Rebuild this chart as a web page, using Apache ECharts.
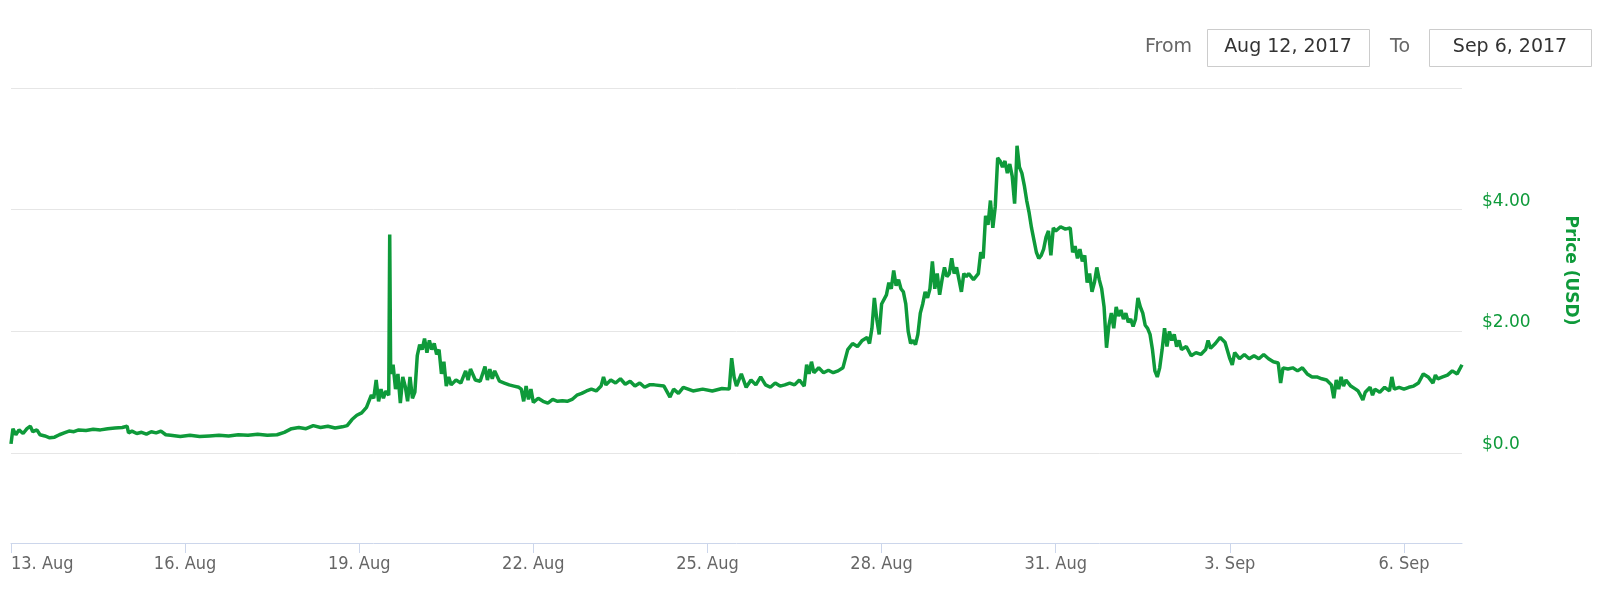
<!DOCTYPE html>
<html>
<head>
<meta charset="utf-8">
<script src="https://cdn.jsdelivr.net/npm/echarts@6/dist/echarts.min.js"></script>
<style>
html,body{margin:0;padding:0;background:#fff;}
#chart{width:1600px;height:598px;}
</style>
</head>
<body>
<div id="chart"></div>
<script>
// hours since 13 Aug 2017 00:00
const hours = [0,0.8,2,3.3,5,6.6,8,9,10.7,12,14,16,18,20,22,24,26,28,31,34,37,40,43,46,48,48.6,50,52,54,56,58,60,62,64,66,70,74,78,82,86,90,94,98,102,106,110,113,116,119,122,125,128,131,134,137,139,141,143,145,147,149,150,151,152,153,154,155,156.2,156.6,157,158,159,160,161,162,163,164,165,166,167,168,169,170,171,172,173,174,175,176,177,178,179,180,181,182,184,186,188,189,190,192,194,196,197,198,199,200,202,204,206,208,210,211,212,213,214,215,216,218,220,222,224,226,228,230,232,234,236,238,240,242,244,245,246,248,250,252,254,256,258,260,262,264,266,270,272.5,274,276,278,282,286,290,294,297,298,299,300,302,304,306,308,310,312,314,316,318,320,322,324,326,328,329,330,331,332,334,336,338,340,342,344,346,348,350,352,354,355,356,357,358,359,360,362,363,364,365,366,367,368,369,370,371,372,373,374,375,376,377,378,379,380,381,382,383,384,385,386,387,388,389,390,391,392,393,394,395,396,398,400,401,402,403,404,405,406,407,408,409,410,411,412,413,414,415,415.5,416,417,418,419,420,421,422,423,424,425,426,427,428,429,430,431,432,434,436,438,439,440,441,442,443,444,445,446,447,448,449,450,451,452,453,454,455,456,457,458,459,460,461,462,463,464,465,466,467,468,469,470,471,472,473,474,475,476,477,478,479,480,481,482,483,484,486,488,490,492,494,495,496,498,500,502,504,505,506,508,510,512,514,516,518,520,522,524,525,526,528,530,532,534,536,538,540,542,544,546,547,548,549,550,551,552,554,556,557,558,559,560,562,563,564,566,568,570,571,572,574,576,578,580,582,584,586,588,589,590,592,594,596,598,600];
const prices = [0.15,0.40,0.30,0.38,0.32,0.40,0.44,0.35,0.38,0.30,0.28,0.25,0.26,0.30,0.33,0.36,0.35,0.38,0.37,0.39,0.38,0.40,0.41,0.42,0.44,0.33,0.36,0.32,0.34,0.31,0.35,0.33,0.36,0.30,0.29,0.27,0.29,0.27,0.28,0.29,0.28,0.30,0.29,0.31,0.29,0.30,0.34,0.40,0.42,0.40,0.45,0.42,0.44,0.41,0.43,0.45,0.55,0.62,0.66,0.75,0.95,0.90,1.20,0.85,1.05,0.90,1.02,0.95,3.59,1.30,1.45,1.05,1.30,0.82,1.25,1.10,0.85,1.25,0.90,1.00,1.60,1.78,1.70,1.88,1.65,1.85,1.70,1.80,1.62,1.70,1.30,1.50,1.10,1.25,1.12,1.20,1.15,1.35,1.20,1.38,1.20,1.18,1.42,1.20,1.38,1.22,1.35,1.18,1.15,1.12,1.10,1.08,1.05,0.85,1.10,0.88,1.05,0.83,0.90,0.85,0.82,0.88,0.85,0.86,0.85,0.88,0.95,0.98,1.02,1.05,1.02,1.10,1.25,1.12,1.20,1.15,1.22,1.13,1.18,1.10,1.15,1.08,1.12,1.12,1.10,0.92,1.05,0.98,1.08,1.02,1.05,1.02,1.06,1.05,1.56,1.25,1.10,1.30,1.08,1.20,1.12,1.25,1.12,1.08,1.15,1.10,1.12,1.15,1.12,1.20,1.10,1.45,1.30,1.50,1.32,1.40,1.32,1.36,1.32,1.35,1.40,1.70,1.80,1.75,1.85,1.90,1.80,2.05,2.55,2.20,1.95,2.45,2.60,2.80,2.70,3.00,2.75,2.85,2.70,2.65,2.45,2.00,1.80,1.85,1.78,1.95,2.30,2.45,2.65,2.55,2.70,3.15,2.70,2.95,2.60,2.85,3.05,2.90,2.95,3.20,2.95,3.05,2.85,2.65,2.95,2.90,2.95,2.85,2.95,3.30,3.20,3.90,3.75,4.15,3.70,4.05,4.85,4.80,4.70,4.80,4.60,4.75,4.55,4.10,4.50,5.05,4.70,4.60,4.40,4.15,3.95,3.70,3.50,3.30,3.20,3.25,3.35,3.55,3.65,3.25,3.70,3.65,3.72,3.68,3.70,3.30,3.40,3.20,3.35,3.15,3.25,2.80,2.95,2.65,2.80,3.05,2.85,2.70,2.40,1.73,2.10,2.30,2.05,2.40,2.25,2.35,2.20,2.30,2.15,2.20,2.08,2.20,2.55,2.40,2.30,2.10,2.05,1.95,1.70,1.35,1.25,1.40,1.70,2.05,1.75,2.00,1.85,1.95,1.75,1.85,1.70,1.75,1.60,1.65,1.62,1.70,1.85,1.72,1.80,1.90,1.82,1.55,1.45,1.65,1.55,1.62,1.55,1.60,1.55,1.62,1.55,1.50,1.48,1.15,1.40,1.38,1.40,1.35,1.40,1.30,1.25,1.25,1.22,1.20,1.12,0.90,1.20,1.05,1.25,1.10,1.20,1.10,1.05,1.02,0.95,0.87,1.00,1.08,0.95,1.05,1.00,1.08,1.02,1.25,1.05,1.08,1.05,1.08,1.10,1.15,1.30,1.25,1.15,1.28,1.22,1.25,1.28,1.35,1.30,1.45];
const yTicks = [0, 2, 4, 6];
const monthNames = ['Jan','Feb','Mar','Apr','May','Jun','Jul','Aug','Sep','Oct','Nov','Dec'];
const startDate = Date.UTC(2017, 7, 13);
const fromText = 'Aug 12, 2017';
const toText = 'Sep 6, 2017';

const seriesData = hours.map((h, i) => [h, prices[i]]);
const green = '#0e9a3a';

const chart = echarts.init(document.getElementById('chart'), null, {renderer: 'canvas'});
chart.setOption({
  animation: false,
  backgroundColor: '#ffffff',
  grid: {left: 11, right: 138, top: 88, bottom: 145, containLabel: false},
  xAxis: {
    type: 'value', min: 0, max: 600, interval: 72,
    offset: 90,
    axisLine: {show: true, onZero: false, lineStyle: {color: '#ccd6eb', width: 1}},
    axisTick: {show: true, length: 10, lineStyle: {color: '#ccd6eb'}},
    splitLine: {show: false},
    axisLabel: {
      margin: 12, color: '#666666', fontSize: 18,
      fontFamily: '"Liberation Sans Narrow", "DejaVu Sans Condensed", sans-serif',
      alignMinLabel: 'left', showMaxLabel: false,
      formatter: function (v) {
        const d = new Date(startDate + v * 3600000);
        return d.getUTCDate() + '. ' + monthNames[d.getUTCMonth()];
      }
    }
  },
  yAxis: {
    type: 'value', position: 'right', min: 0, max: 6, interval: 2,
    axisLine: {show: false}, axisTick: {show: false},
    splitLine: {show: true, lineStyle: {color: '#e6e6e6', width: 1}},
    axisLabel: {
      margin: 20, color: green, fontSize: 17, fontFamily: '"DejaVu Sans", sans-serif',
      verticalAlign: 'bottom',
      formatter: function (v) { if (v === 6) return ''; return v === 0 ? '$0.0' : '$' + v.toFixed(2); }
    },
    name: 'Price (USD)', nameLocation: 'middle', nameRotate: -90, nameGap: 100,
    nameTextStyle: {color: green, fontSize: 17, fontWeight: 'bold', fontFamily: '"DejaVu Sans", sans-serif'}
  },
  series: [{
    type: 'line', data: seriesData, showSymbol: false, symbol: 'none',
    lineStyle: {color: green, width: 3.5}, itemStyle: {color: green}
  }],
  graphic: [
    {type: 'text', x: 1145, y: 47, style: {text: 'From', fontSize: 19, fill: '#666666', verticalAlign: 'middle', fontFamily: '"DejaVu Sans", sans-serif'}},
    {type: 'rect', shape: {x: 1207.5, y: 29.5, width: 162, height: 37}, style: {fill: '#fff', stroke: '#cccccc', lineWidth: 1}},
    {type: 'text', x: 1288, y: 47, style: {text: fromText, fontSize: 19, fill: '#333333', align: 'center', verticalAlign: 'middle', fontFamily: '"DejaVu Sans", sans-serif'}},
    {type: 'text', x: 1390, y: 47, style: {text: 'To', fontSize: 19, fill: '#666666', verticalAlign: 'middle', fontFamily: '"DejaVu Sans", sans-serif'}},
    {type: 'rect', shape: {x: 1429.5, y: 29.5, width: 162, height: 37}, style: {fill: '#fff', stroke: '#cccccc', lineWidth: 1}},
    {type: 'text', x: 1510, y: 47, style: {text: toText, fontSize: 19, fill: '#333333', align: 'center', verticalAlign: 'middle', fontFamily: '"DejaVu Sans", sans-serif'}}
  ]
});
</script>
</body>
</html>
